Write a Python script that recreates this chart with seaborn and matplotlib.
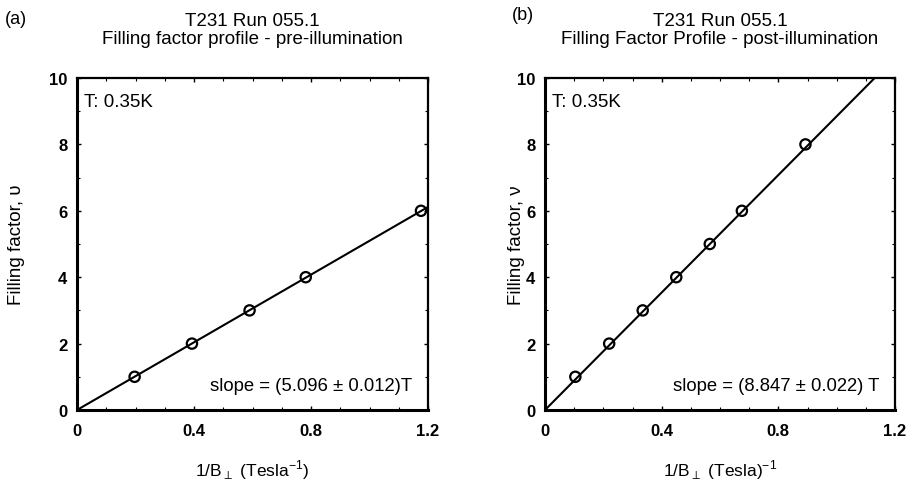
import numpy as np
import pandas as pd
import matplotlib
matplotlib.use("Agg")
import matplotlib.pyplot as plt
import seaborn as sns
from matplotlib.ticker import MultipleLocator

# ---- data ----
pre_x = [0.197, 0.393, 0.590, 0.782, 1.176]
pre_nu = [1, 2, 3, 4, 6]
pre_slope = 5.096
post_x = [0.104, 0.220, 0.335, 0.450, 0.565, 0.675, 0.893]
post_nu = [1, 2, 3, 4, 5, 6, 8]
post_slope = 8.847
x_ticks = [0, 0.4, 0.8, 1.2]
x_ticklabels = ["0", "0.4", "0.8", "1.2"]
y_ticks = [0, 2, 4, 6, 8, 10]

sns.set_style("ticks")
plt.rcParams["font.family"] = ["Liberation Sans", "DejaVu Sans"]
plt.rcParams["text.color"] = "black"
plt.rcParams["axes.labelcolor"] = "black"
plt.rcParams["xtick.color"] = "black"
plt.rcParams["ytick.color"] = "black"

fig = plt.figure(figsize=(9.07, 4.89), dpi=100)
axL = fig.add_axes([77/907, 1-411/489, 351/907, 332/489])
axR = fig.add_axes([545/907, 1-411/489, 350/907, 332/489])

panels = [
    (axL, pre_x, pre_nu, pre_slope, "(a)",
     "T231 Run 055.1\nFilling factor profile - pre-illumination",
     "Filling factor, \u03c5", r"1/B$_\perp$ (Tesla$^{\mathregular{-1}}$)",
     "slope = (5.096 \u00b1 0.012)T", -0.148),
    (axR, post_x, post_nu, post_slope, "(b)",
     "T231 Run 055.1\nFilling Factor Profile - post-illumination",
     "Filling factor, \u03bd", r"1/B$_\perp$ (Tesla)$^{\mathregular{-1}}$",
     "slope = (8.847 \u00b1 0.022) T", -0.057),
]

for ax, xs, ys, slope, tag, title, ylab, xlab, stext, ylx in panels:
    fx = np.array([0.0, 1.2])
    fit = pd.DataFrame({"x": fx, "y": slope * fx})
    sns.lineplot(data=fit, x="x", y="y", ax=ax, color="black", lw=1.5)
    pts = pd.DataFrame({"x": xs, "y": ys})
    sns.scatterplot(data=pts, x="x", y="y", ax=ax, s=55, facecolor="none",
                    edgecolor="black", linewidth=1.6, zorder=5)
    ax.set_xlim(0, 1.2)
    ax.set_ylim(0, 10)
    ax.set_xticks(x_ticks)
    ax.set_xticklabels(x_ticklabels)
    ax.set_yticks(y_ticks)
    ax.xaxis.set_minor_locator(MultipleLocator(0.1))
    ax.yaxis.set_minor_locator(MultipleLocator(1))
    ax.tick_params(which="both", direction="in", top=True, right=True,
                   labelsize=12, color="black", labelcolor="black")
    ax.tick_params(axis="x", pad=9)
    ax.tick_params(axis="y", pad=7)
    ax.tick_params(which="major", length=3, width=1)
    ax.tick_params(which="minor", length=2, width=0.8)
    for lab in ax.get_xticklabels() + ax.get_yticklabels():
        lab.set_fontweight("bold")
    for sp in ax.spines.values():
        sp.set_visible(True)
        sp.set_color("black")
        sp.set_linewidth(1.6)
    ax.spines["left"].set_linewidth(2.2)
    ax.spines["bottom"].set_linewidth(2.2)
    ax.set_xlabel(xlab, fontsize=12.5, labelpad=14, color="black")
    ax.set_ylabel(ylab, fontsize=13.5, color="black")
    ax.yaxis.set_label_coords(ylx, 0.5)
    ax.set_title(title, fontsize=13.5, pad=25, linespacing=1.1, color="black")
    ax.text(0.02, 0.93, "T: 0.35K", transform=ax.transAxes, fontsize=13.5,
            ha="left", va="center", color="black")
    ax.text(0.955, 0.075, stext, transform=ax.transAxes, fontsize=13.3,
            ha="right", va="center", color="black")

fig.text(5/907, 1-20/489, "(a)", fontsize=13, ha="left", va="center", color="black")
fig.text(512/907, 1-16/489, "(b)", fontsize=13, ha="left", va="center", color="black")

fig.savefig("out.png", dpi=100)
